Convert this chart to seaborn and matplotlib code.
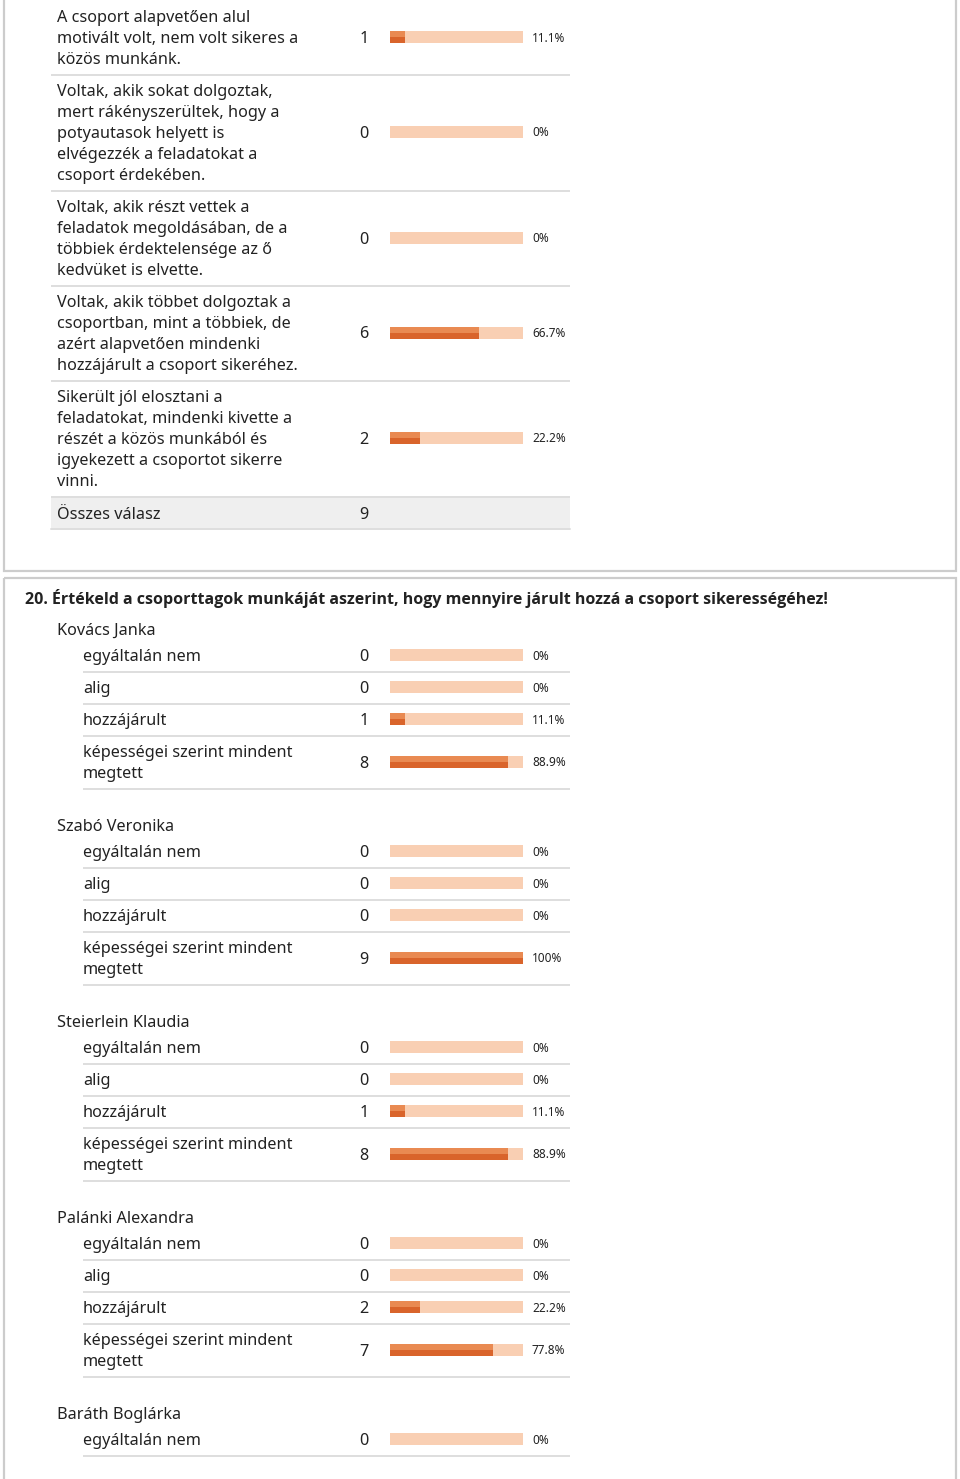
import matplotlib
matplotlib.use("Agg")
import matplotlib.pyplot as plt
import seaborn as sns
from matplotlib.patches import Rectangle

# ---------------- data ----------------
top_labels = [
    "A csoport alapvetően alul\nmotivált volt, nem volt sikeres a\nközös munkánk.",
    "Voltak, akik sokat dolgoztak,\nmert rákényszerültek, hogy a\npotyautasok helyett is\nelvégezzék a feladatokat a\ncsoport érdekében.",
    "Voltak, akik részt vettek a\nfeladatok megoldásában, de a\ntöbbiek érdektelensége az ő\nkedvüket is elvette.",
    "Voltak, akik többet dolgoztak a\ncsoportban, mint a többiek, de\nazért alapvetően mindenki\nhozzájárult a csoport sikeréhez.",
    "Sikerült jól elosztani a\nfeladatokat, mindenki kivette a\nrészét a közös munkából és\nigyekezett a csoportot sikerre\nvinni.",
]
top_counts = [1, 0, 0, 6, 2]
top_pcts = [11.1, 0, 0, 66.7, 22.2]
total_label = "Összes válasz"
total_count = 9

question_title = ("20. Értékeld a csoporttagok munkáját aszerint, hogy mennyire "
                  "járult hozzá a csoport sikerességéhez!")
members = ["Kovács Janka", "Szabó Veronika", "Steierlein Klaudia",
           "Palánki Alexandra", "Baráth Boglárka"]
options = ["egyáltalán nem", "alig", "hozzájárult",
           "képességei szerint mindent\nmegtett"]
member_counts = [[0, 0, 1, 8], [0, 0, 0, 9], [0, 0, 1, 8], [0, 0, 2, 7], [0]]
member_pcts = [[0, 0, 11.1, 88.9], [0, 0, 0, 100], [0, 0, 11.1, 88.9],
               [0, 0, 22.2, 77.8], [0]]

# ---------------- style ----------------
sns.set_theme(style="white")
FONT = ["Noto Sans", "DejaVu Sans"]
plt.rcParams["font.family"] = FONT

W, H = 960, 1479
BAR_X0, BAR_X1 = 390, 523
TXT = "#222222"
SEP = "#dedede"
BORDER = "#cccccc"
BG_BAR = "#f9cfb3"
LIGHT = "#e98a52"
DARK = "#d9642b"
FS = 11.7
FS_PCT = 8.5
LINE_H = 21
DY = 2  # text baseline nudge


def pct_text(p):
    return f"{p:g}%"


fig = plt.figure(figsize=(W / 100, H / 100), dpi=100)
fig.patch.set_facecolor("white")
ax = fig.add_axes([0, 0, 1, 1])
ax.set_xlim(0, W)
ax.set_ylim(H, 0)
ax.axis("off")

bax = fig.add_axes([BAR_X0 / W, 0, (BAR_X1 - BAR_X0) / W, 1])
bax.set_xlim(0, 100)
bax.set_ylim(H, 0)
bax.axis("off")
bax.patch.set_alpha(0)

# boxes
ax.add_patch(Rectangle((4, -20), 952, 591, fill=False, ec=BORDER, lw=1.6))
ax.add_patch(Rectangle((4, 578), 952, 950, fill=False, ec=BORDER, lw=1.6))

bar_y, bar_p = [], []


def draw_row(label, count, pct, top, x_text, sep_x0):
    n = label.count("\n") + 1
    h = n * LINE_H + 11
    for i, line in enumerate(label.split("\n")):
        ax.text(x_text, top + 15 + i * LINE_H + DY, line, fontsize=FS, color=TXT,
                va="center", ha="left")
    cy = top + 15 + (n - 1) * LINE_H / 2
    ax.text(364, cy + DY, str(count), fontsize=FS, color=TXT, va="center", ha="center")
    ax.text(532, cy + 1, pct_text(pct), fontsize=FS_PCT, color=TXT, va="center", ha="left")
    bar_y.append(cy)
    bar_p.append(pct)
    ax.plot([sep_x0, 570], [top + h, top + h], color=SEP, lw=1.4,
            solid_capstyle="butt")
    return top + h


# section 1
y = 1
for lab, c, p in zip(top_labels, top_counts, top_pcts):
    y = draw_row(lab, c, p, y, 57, 51)
ax.add_patch(Rectangle((51, y), 519, 32, color="#efefef", lw=0))
ax.text(57, y + 16 + DY, total_label, fontsize=FS, color=TXT, va="center")
ax.text(364, y + 16 + DY, str(total_count), fontsize=FS, color=TXT, va="center", ha="center")
ax.plot([51, 570], [y + 32, y + 32], color=SEP, lw=1.4)

# section 2
ax.text(25, 598, question_title, fontsize=11.5, fontweight="bold", color=TXT,
        va="center", family=["Open Sans", "DejaVu Sans"])
g = 629
for name, cnts, pcts in zip(members, member_counts, member_pcts):
    ax.text(57, g + DY, name, fontsize=FS, color=TXT, va="center")
    top = g + 11
    for opt, c, p in zip(options, cnts, pcts):
        top = draw_row(opt, c, p, top, 83, 83)
    g += 196

# bars
bax.barh(bar_y, [100] * len(bar_y), height=12, color=BG_BAR, lw=0)
bax.barh([v - 3 for v in bar_y], bar_p, height=6, color=LIGHT, lw=0)
bax.barh([v + 3 for v in bar_y], bar_p, height=6, color=DARK, lw=0)

fig.savefig("out.png", dpi=100, facecolor="white")
